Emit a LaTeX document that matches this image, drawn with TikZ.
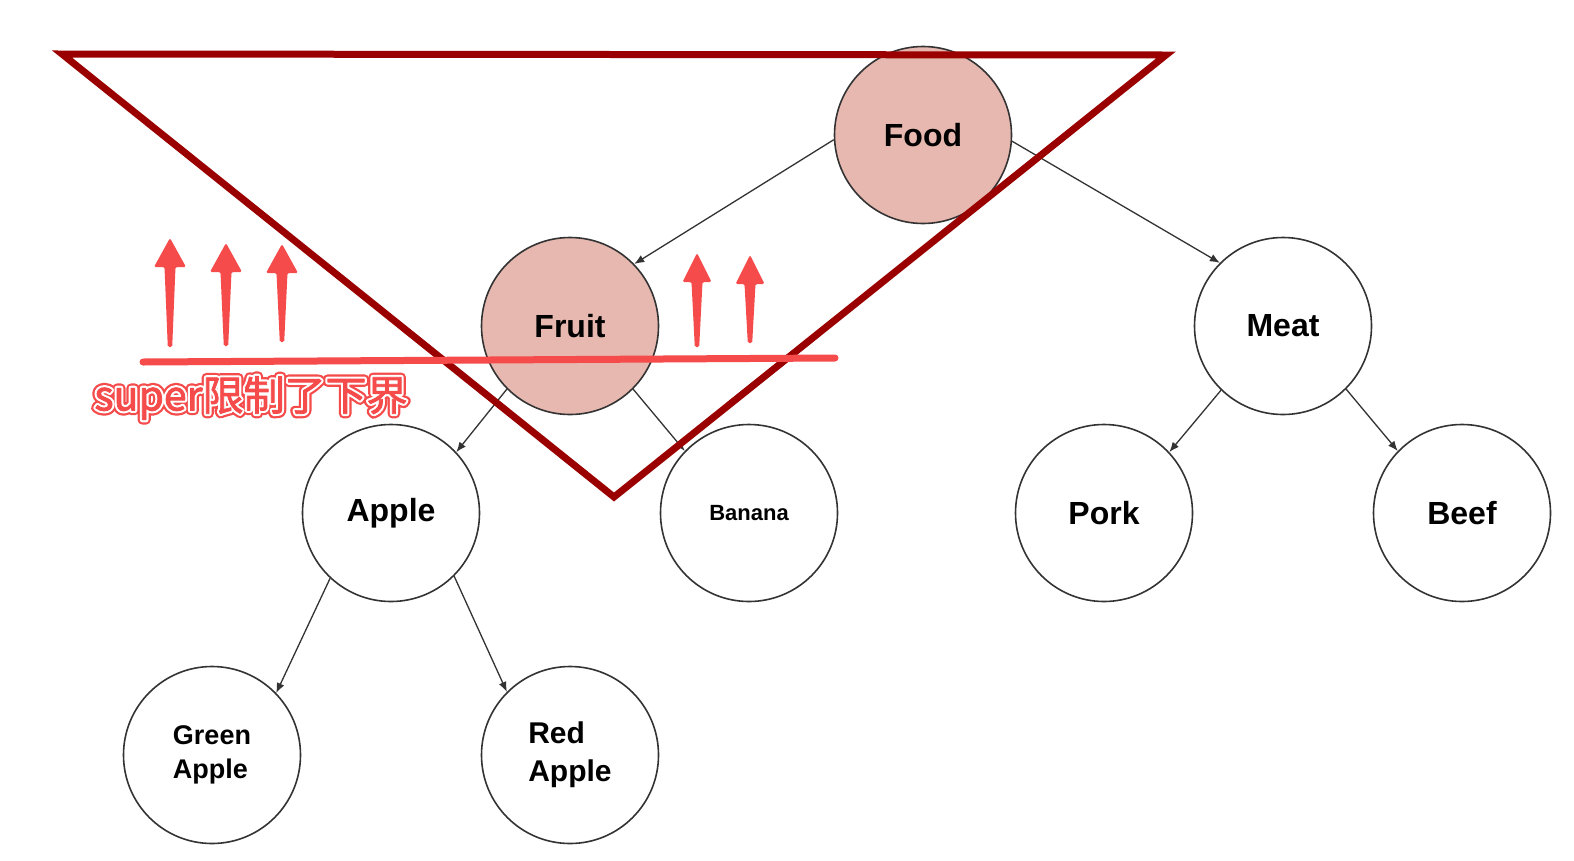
\documentclass[tikz,border=0pt]{standalone}
\usepackage{fontspec}
\setmainfont{Liberation Sans}
\newfontfamily\cjk{Noto Sans CJK SC}
\usetikzlibrary{arrows.meta}
\definecolor{nodefill}{RGB}{230,184,175}
\definecolor{tri}{RGB}{155,0,0}
\definecolor{annred}{RGB}{245,75,75}
\definecolor{edgecol}{RGB}{51,51,51}
\newcommand\annotext[1]{%
  \makebox[0pt][l]{\color{annred}\special{pdf:literal direct 2 Tr 9.5 w 1 j}#1\special{pdf:literal direct 0 Tr}}%
  \makebox[0pt][l]{\color{white}\special{pdf:literal direct 2 Tr 5 w 1 j}#1\special{pdf:literal direct 0 Tr}}%
  {\color{annred}\special{pdf:literal direct 2 Tr 0.8 w 1 j}#1\special{pdf:literal direct 0 Tr}}}
\newcommand\annarrow[4]{% x, tip y, bottom y, head half width
  \fill[annred,rounded corners=1.5pt] (#1,#2) -- (#1+#4,#2+29) -- (#1+5.5,#2+29) -- (#1+2.2,#3)
    -- (#1-2.2,#3) -- (#1-5.5,#2+29) -- (#1-#4,#2+29) -- cycle;}
\begin{document}
\begin{tikzpicture}[x=1pt,y=-1pt,
  tnode/.style={circle,draw=edgecol,line width=1.6pt,minimum size=177pt,inner sep=0pt,
    font=\fontsize{32}{36}\selectfont\bfseries},
  hl/.style={fill=nodefill},
  conn/.style={draw=edgecol,line width=1.3pt,-{Latex[length=10pt,width=8pt]}},
  trianglestyle/.style={draw=tri,line width=7pt,line join=miter},
  boundline/.style={draw=annred,line width=7pt,line cap=round}]
\fill[white] (0,0) rectangle (1574,860);
\useasboundingbox (0,0) rectangle (1574,860);

\node[tnode,hl] (food) at (923,135) {Food};
\node[tnode,hl] (fruit) at (570,326) {Fruit};
\node[tnode] (meat) at (1283,326) {Meat};
\node[tnode] (apple) at (391,513) {Apple};
\node[tnode,font=\fontsize{22}{26}\selectfont\bfseries] (banana) at (749,513) {Banana};
\node[tnode] (pork) at (1104,513) {Pork};
\node[tnode] (beef) at (1462,513) {Beef};
\node[tnode,align=left,font=\fontsize{27}{34}\selectfont\bfseries] (green) at (212,755) {Green\\Apple};
\node[tnode,align=left,font=\fontsize{30}{38}\selectfont\bfseries] (red) at (570,755) {Red\\Apple};

\draw[conn] (food.183) -- (fruit.44);
\draw[conn] (food.356) -- (meat.135);
\draw[conn] (fruit.225) -- (apple.43);
\draw[conn] (fruit.315) -- (banana.136);
\draw[conn] (apple.227) -- (green.44);
\draw[conn] (apple.315) -- (red.135);
\draw[conn] (meat.226) -- (pork.43);
\draw[conn] (meat.315) -- (beef.136);

\coordinate (t1) at (62,54);
\coordinate (t2) at (1166,55);
\coordinate (t3) at (614,497);
\draw[trianglestyle] (t1) -- (t2) -- (t3) -- cycle;

\coordinate (b1) at (143,362);
\coordinate (b2) at (835,358);
\draw[boundline] (b1) -- (b2);

\annarrow{170}{238}{347}{16}
\annarrow{226}{243}{346}{16}
\annarrow{282}{244}{342}{16}
\annarrow{697}{253}{347}{14.5}
\annarrow{750}{255}{343}{14.5}

\node[font=\cjk\fontsize{41}{45}\selectfont,inner sep=0pt] (note) at (251,398) {\annotext{super限制了下界}};
\end{tikzpicture}
\end{document}
